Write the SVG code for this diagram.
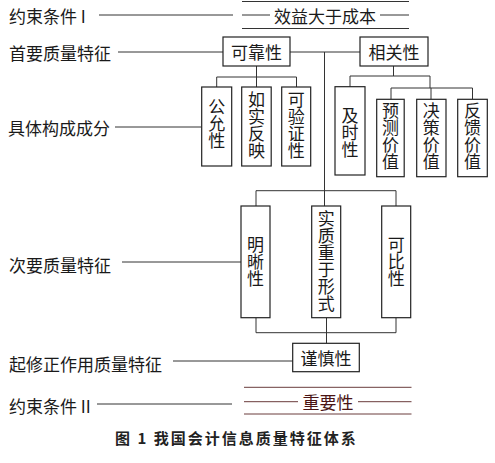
<svg xmlns="http://www.w3.org/2000/svg" width="495" height="463" viewBox="0 0 495 463">
<style>
text{font-family:"Noto Sans CJK SC","Noto Sans",sans-serif;font-size:17px;fill:#1a1a1a;dominant-baseline:central}
.lbl{text-anchor:start}
.c{text-anchor:middle}
.v{text-anchor:middle;writing-mode:vertical-rl;text-orientation:upright}
.box{fill:#fff;stroke:#222;stroke-width:1.2}
.ln{stroke:#333;stroke-width:1;fill:none}
.rl{stroke:#6a3c3c;stroke-width:1;fill:none}
.red{fill:#4a1414}
.cap{font-size:15px;font-weight:bold;letter-spacing:2px;fill:#222}
</style>
<rect width="495" height="463" fill="#fff"/>

<g id="connectors">
  <line class="ln" x1="99" y1="15" x2="233" y2="15"/>
  <line class="ln" x1="118" y1="52" x2="223" y2="52"/>
  <line class="ln" x1="115" y1="127" x2="201.5" y2="127"/>
  <line class="ln" x1="122" y1="262" x2="241" y2="262"/>
  <line class="ln" x1="173" y1="361" x2="293" y2="361"/>
  <line class="ln" x1="97" y1="404" x2="232" y2="404"/>
  <line class="ln" x1="242" y1="1.5" x2="409" y2="1.5"/>
  <line class="ln" x1="242" y1="15" x2="270" y2="15"/>
  <line class="ln" x1="380" y1="15" x2="409" y2="15"/>
  <line class="ln" x1="242" y1="28.5" x2="409" y2="28.5"/>
  <line class="ln" x1="290" y1="52" x2="360" y2="52"/>
  <line class="ln" x1="324.5" y1="52" x2="324.5" y2="206"/>
  <line class="ln" x1="256.5" y1="66" x2="256.5" y2="87"/>
  <polyline class="ln" points="216.7,87 216.7,77 296.5,77 296.5,87"/>
  <line class="ln" x1="393.5" y1="66" x2="393.5" y2="76"/>
  <polyline class="ln" points="350,87 350,76 430,76 430,88"/>
  <polyline class="ln" points="391,99 391,88 472.5,88 472.5,99"/>
  <line class="ln" x1="431" y1="88" x2="431" y2="99"/>
  <polyline class="ln" points="256,206 256,190.7 396,190.7 396,206"/>
  <polyline class="ln" points="256,318 256,332.7 396,332.7 396,318"/>
  <line class="ln" x1="326.5" y1="318" x2="326.5" y2="343.3"/>
  <line class="rl" x1="244" y1="387.3" x2="411.5" y2="387.3"/>
  <line class="rl" x1="244" y1="401.7" x2="298" y2="401.7"/>
  <line class="rl" x1="358" y1="401.7" x2="411.5" y2="401.7"/>
  <line class="rl" x1="244" y1="414" x2="411.5" y2="414"/>
</g>

<g id="labels">
  <text class="lbl" x="9" y="15">约束条件 I</text>
  <text class="lbl" x="9" y="52">首要质量特征</text>
  <text class="lbl" x="8" y="127">具体构成成分</text>
  <text class="lbl" x="9" y="264">次要质量特征</text>
  <text class="lbl" x="9" y="363">起修正作用质量特征</text>
  <text class="lbl" x="9" y="405">约束条件 II</text>
</g>

<g id="n-xiaoyi"><text class="c" x="325" y="15">效益大于成本</text></g>
<g id="n-kekao"><rect class="box" x="223" y="37" width="67" height="29"/><text class="c" x="256.5" y="51.5">可靠性</text></g>
<g id="n-xiangguan"><rect class="box" x="360" y="37" width="68" height="29"/><text class="c" x="394" y="51.5">相关性</text></g>

<g id="n-gongyun"><rect class="box" x="201.7" y="87" width="30" height="79"/><text class="v" x="216.7" y="124">公允性</text></g>
<g id="n-rushi"><rect class="box" x="241.7" y="87" width="29.5" height="79"/><text class="v" x="256.5" y="125.5">如实反映</text></g>
<g id="n-keyanzheng"><rect class="box" x="281.7" y="87" width="29" height="79"/><text class="v" x="296.2" y="125.5">可验证性</text></g>

<g id="n-jishi"><rect class="box" x="335" y="86.7" width="30" height="88.3"/><text class="v" x="350" y="133">及时性</text></g>
<g id="n-yuce"><rect class="box" x="376.7" y="99.3" width="27.5" height="77.4"/><text class="v" x="390.5" y="136.5">预测价值</text></g>
<g id="n-juece"><rect class="box" x="416.7" y="99.3" width="29.3" height="77.4"/><text class="v" x="431.3" y="136.5">决策价值</text></g>
<g id="n-fankui"><rect class="box" x="457.7" y="99.3" width="29.6" height="77.4"/><text class="v" x="472.5" y="136.5">反馈价值</text></g>

<g id="n-mingxi"><rect class="box" x="241" y="206" width="29" height="111.7"/><text class="v" x="255.5" y="262">明晰性</text></g>
<g id="n-shizhi"><rect class="box" x="311.7" y="206" width="29" height="111.7"/><text class="v" x="326.2" y="261.5">实质重于形式</text></g>
<g id="n-kebi"><rect class="box" x="381.7" y="206" width="29" height="111.7"/><text class="v" x="396.2" y="262">可比性</text></g>

<g id="n-jinshen"><rect class="box" x="292.7" y="343.3" width="66.6" height="28.4"/><text class="c" x="326" y="357.5">谨慎性</text></g>
<g id="n-zhongyao"><text class="c red" x="328" y="401.5">重要性</text></g>

<g id="caption"><text class="cap" x="115" y="437">图 1 我国会计信息质量特征体系</text></g>
</svg>
